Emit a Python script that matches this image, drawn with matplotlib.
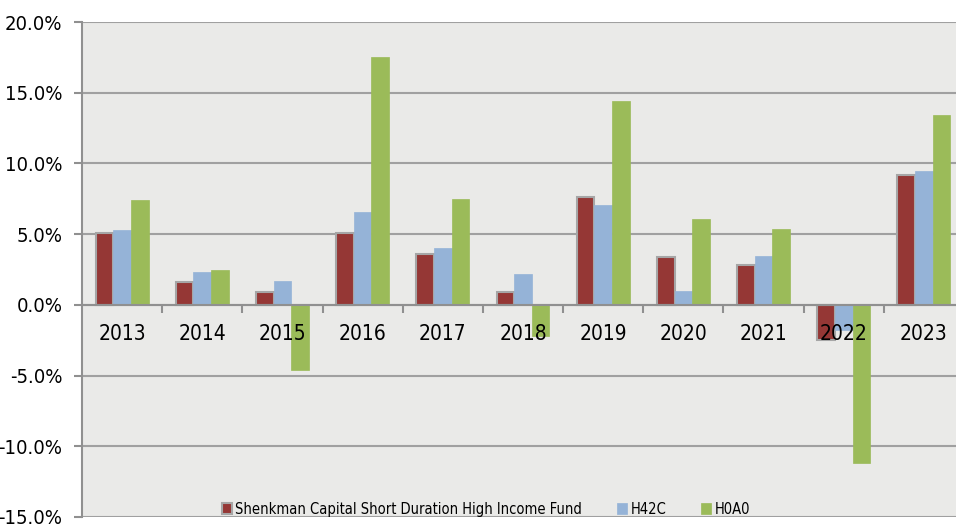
import numpy as np
import matplotlib
matplotlib.use("Agg")
import matplotlib.pyplot as plt
from matplotlib.ticker import FuncFormatter, FixedLocator

plt.rcParams['font.family'] = ['DejaVu Sans']
plt.rcParams['font.stretch'] = 'condensed'

years = ['2013', '2014', '2015', '2016', '2017', '2018', '2019', '2020', '2021', '2022', '2023']
fund = [5.05, 1.6, 0.9, 5.1, 3.6, 0.9, 7.6, 3.35, 2.85, -2.5, 9.2]
h42c = [5.3, 2.3, 1.7, 6.6, 4.0, 2.2, 7.05, 1.0, 3.45, -1.75, 9.5]
h0a0 = [7.4, 2.5, -4.6, 17.5, 7.45, -2.2, 14.4, 6.1, 5.35, -11.2, 13.45]
series_names = ['Shenkman Capital Short Duration High Income Fund', 'H42C', 'H0A0']

fig = plt.figure(figsize=(9.56, 5.25), dpi=100)
ax = fig.add_axes([82/956, 8/525, 882/956, 495/525])
ax.set_facecolor('#EAEAE8')

x = np.arange(len(years))
w = 0.22
ax.bar(x - w, fund, w, color='#953735', edgecolor='#A6A6A6', linewidth=1.5, label=series_names[0], zorder=3)
ax.bar(x, h42c, w, color='#95B3D7', edgecolor='#95B3D7', linewidth=0.5, label=series_names[1], zorder=3)
ax.bar(x + w, h0a0, w, color='#9BBB59', edgecolor='#9BBB59', linewidth=0.5, label=series_names[2], zorder=3)

ax.set_xlim(-0.5, len(years) - 0.5)
ax.set_ylim(-15, 20)
ax.set_yticks(np.arange(-15, 20.1, 5))
ax.yaxis.set_major_formatter(FuncFormatter(lambda v, p: '%.1f%%' % v))
ax.grid(axis='y', color='#A0A0A0', linewidth=1.5, zorder=1)
ax.tick_params(axis='y', length=6, width=1.5, color='#909090', labelsize=14.5, pad=8)

# category axis sits on the zero line
ax.spines['bottom'].set_position(('data', 0))
ax.spines['bottom'].set_color('#909090')
ax.spines['bottom'].set_linewidth(1.5)
ax.spines['bottom'].set_zorder(4)
ax.spines['left'].set_color('#909090')
ax.spines['left'].set_linewidth(1.5)
ax.spines['top'].set_visible(False)
ax.spines['right'].set_visible(False)
ax.xaxis.set_major_locator(FixedLocator(np.arange(0.5, len(years) - 0.5, 1)))
ax.xaxis.set_major_formatter(FuncFormatter(lambda v, p: ''))
ax.tick_params(axis='x', which='major', length=6, width=1.5, color='#909090')

# year labels drawn over the bars, below the zero line
for xi, yr in zip(x, years):
    ax.annotate(yr, (xi, 0), xytext=(0, -29), textcoords='offset pixels',
                ha='center', va='center', fontsize=15, zorder=6)

# bottom border of the plot area
ax.axhline(-15, color='#A0A0A0', linewidth=2, zorder=2)

leg = ax.legend(loc='center', bbox_to_anchor=(0.458, 0.016), ncol=3, frameon=False,
                fontsize=10.5, handlelength=0.7, handleheight=0.7, handletextpad=0.2,
                columnspacing=2.4)

fig.savefig('out.png', dpi=100)
